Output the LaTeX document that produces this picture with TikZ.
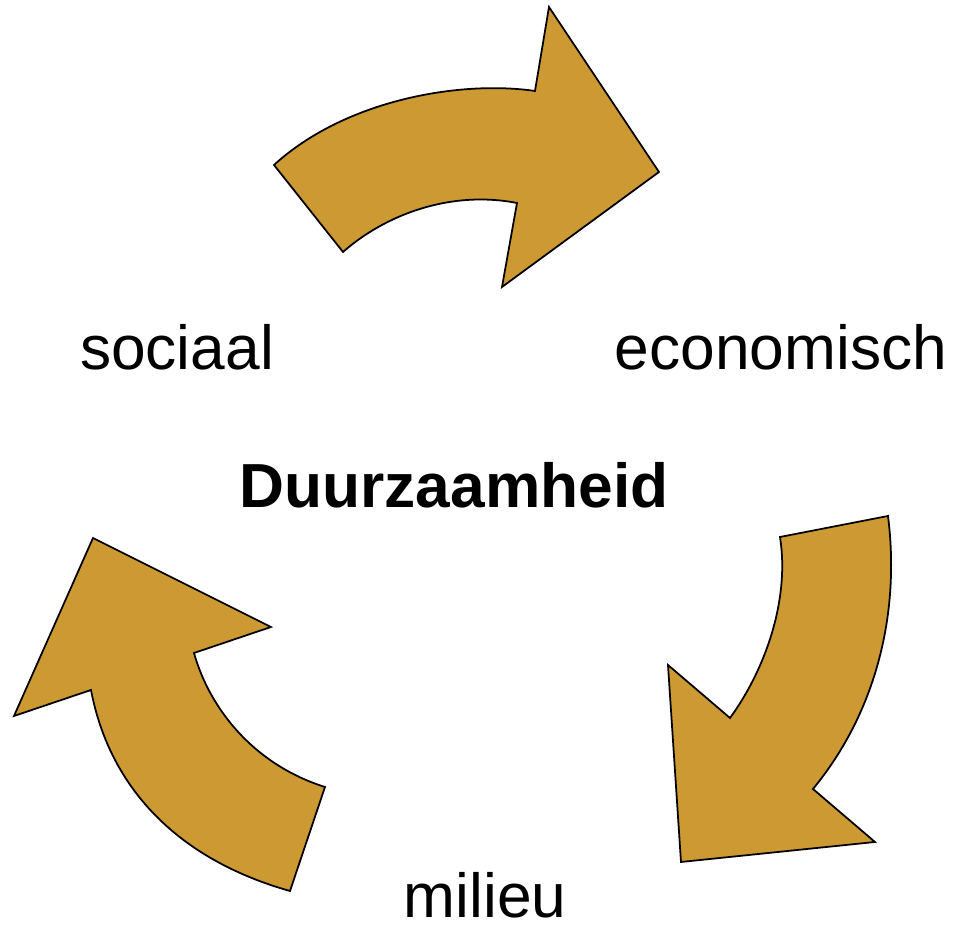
\documentclass[tikz,border=0pt]{standalone}
\usepackage{fontspec}
\setmainfont{Liberation Sans}
\definecolor{gold}{RGB}{204,153,51}

\begin{document}
\begin{tikzpicture}[x=0.01cm,y=-0.01cm,
	cyclearrow/.style={draw=black,line width=0.5pt,fill=gold,line join=miter},
	label/.style={anchor=base,inner sep=0pt,text depth=0pt,font=\fontsize{17.7}{20}\selectfont}]
					\useasboundingbox (0,0) rectangle (959,925);

					% top arrow
					\draw[cyclearrow] (274,165) .. controls (345,100) and (460,80) .. (535,91)
						-- (549,7) -- (659,172) -- (502,287) -- (517,203)
						.. controls (450,190) and (385,215) .. (343,252) -- cycle;
					% right arrow
					\draw[cyclearrow] (888,516) .. controls (900,610) and (878,710) .. (813,789)
						-- (875,842) -- (681,862) -- (668,665) -- (730,718)
						.. controls (765,670) and (790,600) .. (780,537) -- cycle;
					% left arrow
					\draw[cyclearrow] (290,891) .. controls (180,860) and (110,790) .. (91,690)
						-- (14,716) -- (93,538) -- (271,627) -- (194,653)
						.. controls (210,710) and (255,765) .. (325,787) -- cycle;

					\node (sociaal) [label] at (177,370) {sociaal};
					\node (economisch) [label] at (781,370) {economisch};
					\node (milieu) [label] at (485,918) {milieu};
					\node (duurzaamheid) [label,font=\fontsize{17.7}{20}\selectfont\bfseries] at (454,508) {Duurzaamheid};
				\end{tikzpicture}
\end{document}
